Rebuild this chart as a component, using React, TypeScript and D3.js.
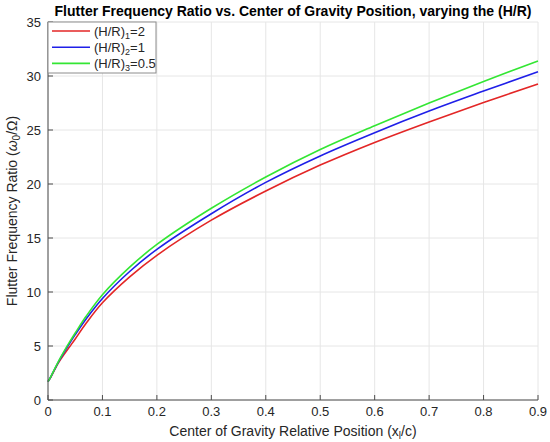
import React from 'react';
import * as d3 from 'd3';

// x positions (center of gravity relative position) and curve values
const xPos = [0, 0.005, 0.01, 0.02, 0.03, 0.04, 0.05, 0.07, 0.1, 0.15, 0.2, 0.3, 0.4, 0.5, 0.6, 0.7, 0.8, 0.9];
const ratioHR2 = [1.7, 2.1, 2.58, 3.5, 4.25, 4.95, 5.65, 7.1, 9.0, 11.4, 13.4, 16.65, 19.35, 21.75, 23.85, 25.75, 27.55, 29.25];
const ratioHR1 = [1.7, 2.13, 2.62, 3.6, 4.47, 5.28, 6.05, 7.5, 9.4, 11.9, 13.95, 17.25, 20.15, 22.6, 24.75, 26.75, 28.6, 30.4];
const ratioHR05 = [1.7, 2.15, 2.65, 3.65, 4.55, 5.4, 6.2, 7.75, 9.75, 12.3, 14.4, 17.75, 20.65, 23.2, 25.4, 27.5, 29.5, 31.4];

const xTicks = [0, 0.1, 0.2, 0.3, 0.4, 0.5, 0.6, 0.7, 0.8, 0.9];
const yTicks = [0, 5, 10, 15, 20, 25, 30, 35];

const series = [
  { name: '1', value: '2', data: ratioHR2, color: '#e32626' },
  { name: '2', value: '1', data: ratioHR1, color: '#1f1fe8' },
  { name: '3', value: '0.5', data: ratioHR05, color: '#33e633' },
];

const W = 550;
const H = 442;
const left = 48;
const right = 538;
const top = 22;
const bottom = 400;
const font = '"Liberation Sans", Arial, Helvetica, sans-serif';
const axisColor = '#4d4d4d';
const textColor = '#262626';

const App: React.FC = () => {
  const x = d3.scaleLinear().domain([0, 0.9]).range([left, right]);
  const y = d3.scaleLinear().domain([0, 35]).range([bottom, top]);

  const line = d3
    .line<number>()
    .x((_, i) => x(xPos[i]))
    .y((d) => y(d))
    .curve(d3.curveCatmullRom.alpha(0.5));

  return (
    <svg width={W} height={H} style={{ position: 'absolute', left: 0, top: 0, background: '#fff' }} fontFamily={font}>
      <rect x={0} y={0} width={W} height={H} fill="#fff" />
      {/* grid */}
      {xTicks.map((t) => (
        <line key={'gx' + t} x1={x(t)} x2={x(t)} y1={top} y2={bottom} stroke="#e6e6e6" strokeWidth={1} />
      ))}
      {yTicks.map((t) => (
        <line key={'gy' + t} x1={left} x2={right} y1={y(t)} y2={y(t)} stroke="#e6e6e6" strokeWidth={1} />
      ))}

      {/* curves */}
      {series.map((s) => (
        <path key={s.name} d={line(s.data) || ''} fill="none" stroke={s.color} strokeWidth={1.6} />
      ))}

      {/* axes */}
      <line x1={left} x2={left} y1={top} y2={bottom} stroke={axisColor} strokeWidth={1} />
      <line x1={left} x2={right} y1={bottom} y2={bottom} stroke={axisColor} strokeWidth={1} />
      {xTicks.map((t) => (
        <g key={'tx' + t}>
          <line x1={x(t)} x2={x(t)} y1={bottom} y2={bottom - 5} stroke={axisColor} />
          <text x={x(t)} y={bottom + 16} textAnchor="middle" fontSize={13} fill={textColor}>
            {t}
          </text>
        </g>
      ))}
      {yTicks.map((t) => (
        <g key={'ty' + t}>
          <line x1={left} x2={left + 5} y1={y(t)} y2={y(t)} stroke={axisColor} />
          <text x={left - 7} y={y(t) + 4.5} textAnchor="end" fontSize={13} fill={textColor}>
            {t}
          </text>
        </g>
      ))}

      {/* title and labels */}
      <text x={(left + right) / 2} y={16} textAnchor="middle" fontSize={14} fontWeight="bold" fill="#000">
        Flutter Frequency Ratio vs. Center of Gravity Position, varying the (H/R)
      </text>
      <text x={(left + right) / 2} y={436} textAnchor="middle" fontSize={14} fill={textColor}>
        Center of Gravity Relative Position (x
        <tspan fontSize={10} dy={3}>l</tspan>
        <tspan dy={-3}>/c)</tspan>
      </text>
      <text transform={`translate(17,${(top + bottom) / 2}) rotate(-90)`} textAnchor="middle" fontSize={14} fill={textColor}>
        Flutter Frequency Ratio (
        <tspan fontStyle="italic">ω</tspan>
        <tspan fontSize={10} dy={3}>0</tspan>
        <tspan dy={-3}>/Ω)</tspan>
      </text>

      {/* legend */}
      <rect x={left} y={top} width={108} height={51} fill="#fff" stroke="#8c8c8c" strokeWidth={1} />
      {series.map((s, i) => {
        const ly = 31 + i * 16.2;
        return (
          <g key={'lg' + s.name}>
            <line x1={52} x2={90} y1={ly} y2={ly} stroke={s.color} strokeWidth={1.6} />
            <text x={94} y={ly + 4.5} fontSize={13} fill={textColor}>
              (H/R)
              <tspan fontSize={9} dy={3}>{s.name}</tspan>
              <tspan dy={-3}>={s.value}</tspan>
            </text>
          </g>
        );
      })}
    </svg>
  );
};

export default App;
